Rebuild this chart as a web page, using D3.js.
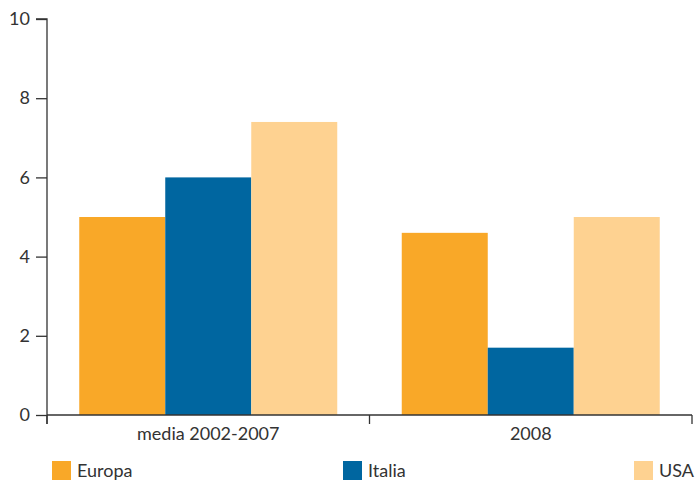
<!DOCTYPE html>
<html><head><meta charset="utf-8">
<script src="https://cdn.jsdelivr.net/npm/d3@7"></script>
<style>body{margin:0;background:#fff}svg{display:block}text{font-family:"Lato","Open Sans",sans-serif;fill:#333}</style>
</head><body><svg id="c" width="696" height="480"></svg>
<script>
const categories = ["media 2002-2007", "2008"];
const seriesNames = ["Europa", "Italia", "USA"];
const europa = [5.0, 4.6];
const italia = [6.0, 1.7];
const usa = [7.4, 5.0];
const yTicks = [0, 2, 4, 6, 8, 10];
const colors = ["#F9A828", "#0066A0", "#FED291"];

const seriesValues = [europa, italia, usa];
const svg = d3.select("#c");
const x0 = d3.scaleBand().domain(categories).range([47, 692]).paddingInner(0).paddingOuter(0);
const x1 = d3.scaleBand().domain(seriesNames).range([0, x0.bandwidth()]).paddingInner(0).paddingOuter(0.375);
const y = d3.scaleLinear().domain([0, 10]).range([415, 19]);

// bars
categories.forEach((c, ci) => {
  seriesNames.forEach((s, si) => {
    svg.append("rect")
      .attr("x", x0(c) + x1(s))
      .attr("y", y(seriesValues[si][ci]))
      .attr("width", x1.bandwidth())
      .attr("height", y(0) - y(seriesValues[si][ci]))
      .attr("fill", colors[si]);
  });
});

// y axis
const ya = d3.axisLeft(y).tickValues(yTicks).tickSize(11).tickPadding(6);
const yg = svg.append("g").attr("transform", "translate(47,0)").call(ya);
yg.select(".domain").attr("d", "M-11,19H0V424").attr("stroke", "#333").attr("fill", "none").attr("stroke-width", 1.3);
yg.selectAll(".tick line").attr("stroke", "#333").attr("stroke-width", 1.3);
yg.selectAll(".tick text").attr("font-size", 18).attr("fill", "#333").style("font-family", "Lato, sans-serif");

// x axis
const xa = d3.axisBottom(x0).tickSize(0).tickPadding(12);
const xg = svg.append("g").attr("transform", "translate(0,415)").call(xa);
xg.select(".domain").attr("stroke", "#333").attr("stroke-width", 1.3).attr("d", "M47,0H692");
xg.selectAll(".tick text").attr("font-size", 18).attr("fill", "#333").style("font-family", "Lato, sans-serif");
// boundary ticks
const bounds = [47, x0(categories[1]), 692];
xg.selectAll("line.b").data(bounds).enter().append("line")
  .attr("x1", d => d).attr("x2", d => d).attr("y1", 0).attr("y2", 9)
  .attr("stroke", "#333").attr("stroke-width", 1.3);

// legend
const legX = [52, 343, 634];
seriesNames.forEach((s, i) => {
  svg.append("rect").attr("x", legX[i]).attr("y", 461).attr("width", 19).attr("height", 19).attr("fill", colors[i]);
  svg.append("text").attr("x", legX[i] + 25).attr("y", 477).attr("font-size", 18).text(s);
});
</script></body></html>
